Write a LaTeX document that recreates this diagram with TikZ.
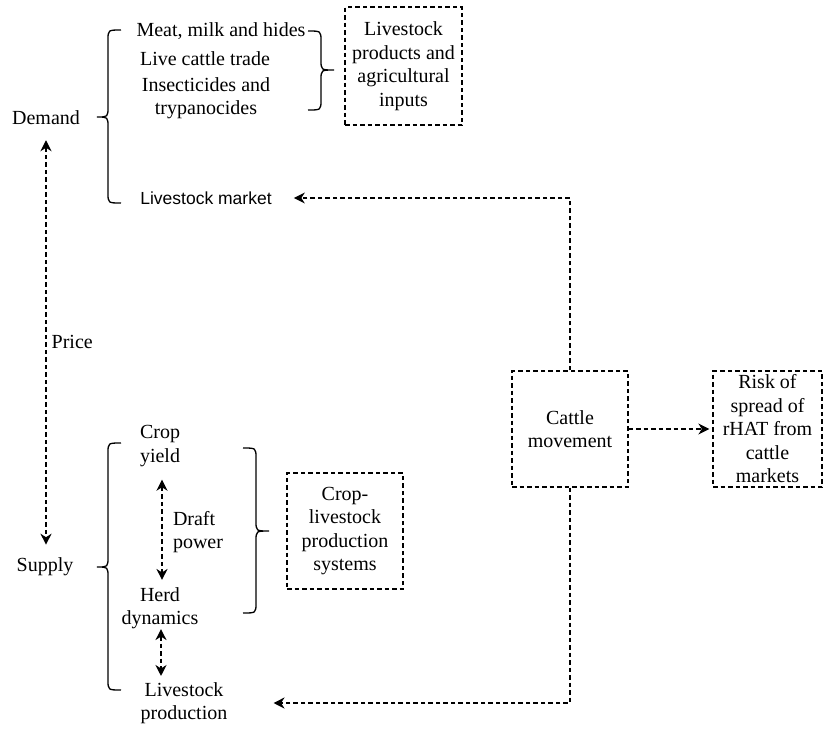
\documentclass[tikz,border=0pt]{standalone}
\usepackage{fontspec}
\setmainfont{Liberation Serif}
\newfontfamily\arialfont{Liberation Sans}
\usetikzlibrary{arrows.meta}
\begin{document}
\begin{tikzpicture}[x=1pt,y=-1pt,
  txt/.style={inner sep=0pt, align=center, font=\fontsize{20}{23.5}\selectfont},
  dbox/.style={draw, dash pattern=on 4.5pt off 3pt, line width=1.3pt, minimum width=116pt, minimum height=116pt, inner sep=0pt, align=center, font=\fontsize{20}{23.5}\selectfont},
  dar/.style={dash pattern=on 4.5pt off 3pt, line width=1.4pt, -{Stealth[length=11pt,width=11pt,inset=3.5pt]}},
  ddar/.style={dar, {Stealth[length=11pt,width=11pt,inset=3.5pt]}-{Stealth[length=11pt,width=11pt,inset=3.5pt]}},
  brc/.style={line width=1.3pt}]
\useasboundingbox (0,0) rectangle (823,729);
% texts
\node[txt] (demand) at (46,118) {Demand};
\node[txt] (meat) at (221,31) {Meat, milk and hides};
\node[txt] (live) at (205,59) {Live cattle trade};
\node[txt] (insect) at (206,98) {Insecticides and\\trypanocides};
\node[txt, font=\arialfont\fontsize{17.5}{21}\selectfont] (lmarket) at (206,198) {Livestock market};
\node[dbox, minimum width=117pt, minimum height=118pt] (lprods) at (403.5,66) {Livestock\\products and\\agricultural\\inputs};
\node[txt] (supply) at (45,567) {Supply};
\node[txt] (crop) at (160,446) {Crop\\yield};
\node[txt, align=left] (draft) at (198,532) {Draft\\power};
\node[txt] (herd) at (160,608) {Herd\\dynamics};
\node[txt] (lprod) at (184,703) {Livestock\\production};
\node[dbox] (cls) at (345,531) {Crop-\\livestock\\production\\systems};
\node[dbox] (cattle) at (570,429) {Cattle\\movement};
\node[dbox, minimum width=109pt] (risk) at (767.5,429) {Risk of\\spread of\\rHAT from\\cattle\\markets};
% connectors
\draw[ddar, shorten <=15pt, shorten >=13pt] (demand.south) -- (demand.south |- supply.north)
  node[midway, right=5pt, txt] (price) {Price};
\draw[dar, shorten >=22pt] (cattle.north) |- (lmarket.east);
\draw[dar, shorten >=46pt] (cattle.south) |- (lprod.east);
\draw[dar, shorten >=3pt] (cattle.east) -- (risk.west);
\draw[ddar, shorten <=13pt, shorten >=7pt] ([xshift=2pt]crop.south) -- ([xshift=2pt]herd.north);
\draw[ddar, shorten <=0pt, shorten >=6pt] ([xshift=1pt]herd.south) -- ([xshift=1pt]herd.south |- lprod.north);
% braces
\draw[brc] (121,30) .. controls (108,30) .. (108,40) -- (108,107) .. controls (108,117) .. (97,117)
  .. controls (108,117) .. (108,127) -- (108,193) .. controls (108,203) .. (121,203);
\draw[brc] (308,31) .. controls (321,31) .. (321,41) -- (321,60) .. controls (321,70) .. (334,70)
  .. controls (321,70) .. (321,80) -- (321,100) .. controls (321,110) .. (308,110);
\draw[brc] (121,443) .. controls (108,443) .. (108,453) -- (108,557) .. controls (108,567) .. (97,567)
  .. controls (108,567) .. (108,577) -- (108,680) .. controls (108,690) .. (121,690);
\draw[brc] (243,448) .. controls (256,448) .. (256,458) -- (256,521) .. controls (256,531) .. (269,531)
  .. controls (256,531) .. (256,541) -- (256,603) .. controls (256,613) .. (243,613);
\end{tikzpicture}
\end{document}
